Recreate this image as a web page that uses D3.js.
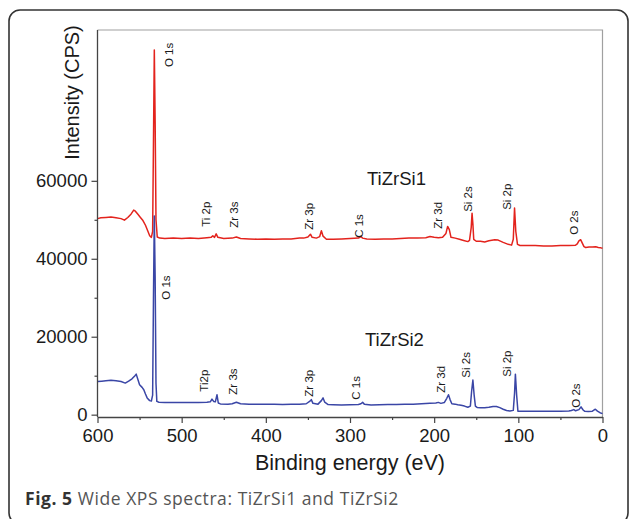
<!DOCTYPE html>
<html><head><meta charset="utf-8">
<script src="https://cdn.jsdelivr.net/npm/d3@7"></script>
<style>
html,body{margin:0;padding:0;background:#fff;}
svg{display:block;}
</style></head>
<body>
<svg id="chart" width="630" height="519"></svg>
<script>
// ---- Data (binding energy in eV, intensity in CPS) ----
const seriesNames = ["TiZrSi1", "TiZrSi2"];
const tiZrSi1 = [
[600,50300],[596,50500],[590,50600],[584,50700],[578,50500],[572,50300],[568,49900],[564,50600],
[560,51500],[557,52500],[555,52200],[552,51400],[549,50600],[546,49800],[543,48600],[540,47000],
[538,45900],[536,45500],[534.5,47000],[533.5,70000],[532.5,93600],[531.5,75000],[530.5,50000],
[529,45600],[526,45300],[520,45200],[510,45300],[500,45200],[490,45300],[480,45200],[470,45400],
[465,45500],[463,45900],[461,45500],[459,46400],[457,45500],[450,45200],[440,45300],[435,45600],
[430,45200],[420,45100],[410,45000],[400,45100],[390,45000],[380,45100],[370,45100],[360,45300],
[355,45300],[350,45600],[347,46300],[345,45500],[340,45300],[336,45700],[334,47200],[332,45800],
[328,45000],[320,45000],[310,45100],[300,45200],[290,45300],[287,45700],[285,45300],[280,45100],
[270,45000],[260,45100],[250,45100],[240,45200],[230,45300],[220,45300],[210,45400],[205,45700],
[200,45500],[195,45400],[190,45500],[186,46500],[184,48300],[182,47500],[180,45500],[175,45300],
[170,45000],[165,44700],[160,44400],[158,44700],[156,48000],[155,51700],[154,49000],[153,45000],
[150,44500],[145,44500],[140,44300],[135,44600],[128,44900],[124,44800],[118,44200],[112,43700],
[108,43500],[106,45000],[104.5,53000],[103,47000],[101,43700],[98,43400],[90,43400],[80,43400],
[70,43300],[60,43300],[50,43400],[40,43400],[32,43500],[30,43800],[28,44600],[26,44900],[24,44000],
[22,43100],[20,42900],[16,43000],[12,43000],[8,43100],[5,42900],[2,42800],[0,42700]
];
const tiZrSi2 = [
[600,8500],[595,8600],[590,8700],[584,8800],[578,8700],[572,8500],[567,8100],[563,8600],[559,9200],
[555.5,10000],[554,10400],[552,9000],[550,7700],[547,7000],[545,6400],[543,5300],[541,4300],[538,3600],
[536,3500],[534.5,5000],[533.5,30000],[532.5,51000],[531.5,35000],[530.5,8000],[529.5,3400],[527,3200],
[520,3100],[510,3150],[500,3100],[490,3150],[480,3100],[470,3200],[466,3300],[464,4000],[462,3400],
[460,3300],[458,5100],[456.5,3000],[454,2750],[445,2700],[440,2800],[435,3200],[430,2800],[420,2700],
[410,2650],[400,2700],[390,2650],[380,2600],[370,2650],[360,2700],[352,2800],[348,3400],[346,3850],
[344,2900],[338,2700],[334,3600],[332,4300],[330,3200],[326,2600],[320,2550],[310,2500],[300,2550],
[290,2600],[287,2800],[285,3150],[283,2700],[275,2500],[265,2550],[255,2600],[245,2600],[235,2700],
[225,2700],[215,2800],[205,2900],[198,3000],[195,3150],[192,2900],[188,3100],[185,4200],[183,5100],
[181,3800],[179,2800],[175,2700],[172,2550],[168,2400],[164,2200],[160,1900],[157,2200],[155.5,6000],
[154,8900],[152.5,5000],[151,2200],[149,1850],[145,1800],[140,1800],[135,1900],[130,2100],[126,2100],
[122,1800],[118,1400],[114,1050],[110,950],[106,1100],[104.5,5500],[103.5,10400],[102,5000],[100.5,900],
[98,850],[90,850],[80,850],[70,900],[60,850],[50,900],[40,950],[37,1050],[34,1300],[32,1000],[28,1300],
[25.5,2000],[23,1200],[21,850],[17,800],[12,900],[8.5,1400],[6,900],[3,500],[0,260]
];
// peak annotations: [label, binding energy, intensity at label start]
const peaks1 = [["O 1s",510.3,89200],["Ti 2p",466.3,48200],["Zr 3s",433,47950],["Zr 3p",344,47430],
  ["C 1s",284.6,45380],["Zr 3d",190.7,47690],["Si 2s",155,52050],["Si 2p",108.7,52560],["O 2s",29.1,46150]];
const peaks2 = [["O 1s",513.9,29490],["Ti2p",468.7,5900],["Zr 3s",434.3,5130],["Zr 3p",344,4620],
  ["C 1s",288.1,3850],["Zr 3d",187.1,5640],["Si 2s",157.5,9490],["Si 2p",108.7,9740],["O 2s",26.7,1790]];
const nameAnchors = [[279.8,58970],[282.2,17690]];
const xMajor = [600,500,400,300,200,100,0];
const xMinor = [550,450,350,250,150,50];
const yMajor = [0,20000,40000,60000];
const yMinor = [10000,30000,50000];
const xTitle = "Binding energy (eV)";
const yTitle = "Intensity (CPS)";
const captionBold = "Fig. 5";
const captionText = " Wide XPS spectra: TiZrSi1 and TiZrSi2";

// ---- Layout ----
const svg = d3.select("#chart");
const L = 97.5, R = 602.5, T = 30, B = 417;
const x = d3.scaleLinear().domain([600,0]).range([L,R]);
const y = d3.scaleLinear().domain([-600,98700]).range([B,T]);
const colors = ["#e3231d","#3a46a6"];
const axisFont = "'Liberation Sans', Arial, Helvetica, sans-serif";

// outer frame
svg.append("rect").attr("x",9).attr("y",10).attr("width",619).attr("height",514)
  .attr("rx",11).attr("fill","none").attr("stroke","#333").attr("stroke-width",1.6);

// top & right frame lines
svg.append("path").attr("d",`M${L},${T}H${R}V${B}`).attr("fill","none").attr("stroke","#a0a0a0").attr("stroke-width",1.2);

// lines
const line = d3.line().x(d=>x(d[0])).y(d=>y(d[1]));
[tiZrSi1, tiZrSi2].forEach((s,i)=>{
  svg.append("path").datum(s).attr("d",line).attr("fill","none")
    .attr("stroke",colors[i]).attr("stroke-width",1.5).attr("stroke-linejoin","round");
});

// axes
function styleAxis(g){
  g.select(".domain").attr("stroke","#444").attr("stroke-width",1.3);
  g.selectAll(".tick line").attr("stroke","#444").attr("stroke-width",1.2);
  g.selectAll("text").attr("font-family",axisFont).attr("font-size","18.5px").attr("fill","#1a1a1a");
}
const gx = svg.append("g").attr("transform",`translate(0,${B})`)
  .call(d3.axisBottom(x).tickValues(xMajor).tickSize(6).tickSizeOuter(0).tickFormat(d3.format("d")));
gx.call(styleAxis);
gx.selectAll(".tick text").attr("y",25).attr("dy","0");
svg.append("g").attr("transform",`translate(0,${B})`)
  .call(d3.axisBottom(x).tickValues(xMinor).tickSize(3).tickSizeOuter(0).tickFormat(""))
  .call(g=>{g.select(".domain").remove(); g.selectAll(".tick line").attr("stroke","#444").attr("stroke-width",1.2);});

const gy = svg.append("g").attr("transform",`translate(${L},0)`)
  .call(d3.axisLeft(y).tickValues(yMajor).tickSize(6).tickPadding(4).tickSizeOuter(0).tickFormat(d3.format("d")));
gy.call(styleAxis);
gy.select(".domain").attr("d",`M0,${T}V${B}`);
svg.append("g").attr("transform",`translate(${L},0)`)
  .call(d3.axisLeft(y).tickValues(yMinor).tickSize(3).tickSizeOuter(0).tickFormat(""))
  .call(g=>{g.select(".domain").remove(); g.selectAll(".tick line").attr("stroke","#444").attr("stroke-width",1.2);});

// axis titles
svg.append("text").attr("x",(L+R)/2).attr("y",470).attr("text-anchor","middle")
  .attr("font-family",axisFont).attr("font-size","21.5px").attr("fill","#1a1a1a").text(xTitle);
svg.append("text").attr("transform","translate(79,92.5) rotate(-90)").attr("text-anchor","middle")
  .attr("font-family",axisFont).attr("font-size","20px").attr("fill","#1a1a1a").text(yTitle);

// peak labels
[peaks1, peaks2].forEach(p=>{
  svg.selectAll(null).data(p).enter().append("text")
    .attr("transform",d=>`translate(${x(d[1])},${y(d[2])}) rotate(-90)`)
    .attr("font-family",axisFont).attr("font-size","11.5px").attr("fill","#1a1a1a")
    .text(d=>d[0]);
});

// series names
svg.selectAll(null).data(nameAnchors).enter().append("text")
  .attr("x",d=>x(d[0])).attr("y",d=>y(d[1]))
  .attr("font-family",axisFont).attr("font-size","18.5px").attr("fill","#1a1a1a")
  .text((d,i)=>seriesNames[i]);

// caption
const cap = svg.append("text").attr("x",25).attr("y",505)
  .attr("font-family","'Open Sans', 'Noto Sans', sans-serif").attr("font-size","17.5px")
  .attr("letter-spacing","0.55px");
cap.append("tspan").attr("font-weight","bold").attr("fill","#333").text(captionBold);
cap.append("tspan").attr("fill","#555").text(captionText);
</script>
</body></html>
